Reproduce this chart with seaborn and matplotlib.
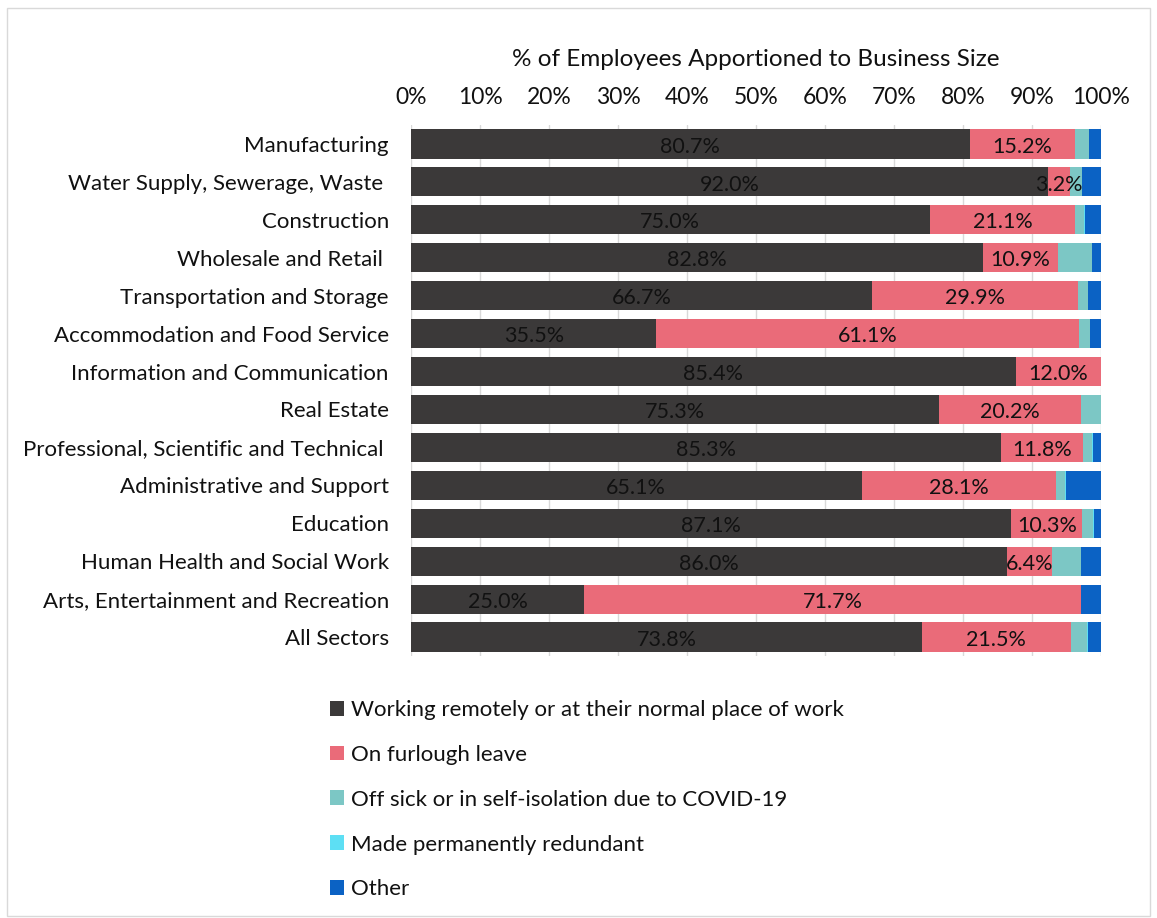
import matplotlib
matplotlib.use("Agg")
import matplotlib.pyplot as plt
import numpy as np
import pandas as pd
import seaborn as sns
from matplotlib.patches import Patch, Rectangle

# Sector categories (top to bottom)
sectors = [
    "Manufacturing",
    "Water Supply, Sewerage, Waste ",
    "Construction",
    "Wholesale and Retail ",
    "Transportation and Storage",
    "Accommodation and Food Service",
    "Information and Communication",
    "Real Estate",
    "Professional, Scientific and Technical ",
    "Administrative and Support",
    "Education",
    "Human Health and Social Work",
    "Arts, Entertainment and Recreation",
    "All Sectors",
]

# Workforce status, % of employees
working = [80.7, 92.0, 75.0, 82.8, 66.7, 35.5, 85.4, 75.3, 85.3, 65.1, 87.1, 86.0, 25.0, 73.8]
furlough = [15.2, 3.2, 21.1, 10.9, 29.9, 61.1, 12.0, 20.2, 11.8, 28.1, 10.3, 6.4, 71.7, 21.5]
sick = [2.0, 1.7, 1.2, 4.9, 1.4, 1.6, 0.0, 2.9, 1.3, 1.3, 1.6, 4.2, 0.0, 2.4]
redundant = [0.1, 0.0, 0.2, 0.0, 0.0, 0.0, 0.0, 0.0, 0.1, 0.2, 0.1, 0.0, 0.0, 0.1]
other = [1.7, 2.8, 2.3, 1.3, 1.9, 1.6, 0.0, 0.0, 1.2, 5.0, 1.0, 2.9, 2.9, 1.9]

series_names = [
    "Working remotely or at their normal place of work",
    "On furlough leave",
    "Off sick or in self-isolation due to COVID-19",
    "Made permanently redundant",
    "Other",
]
series_colors = ["#3b3939", "#ea6b79", "#7cc7c5", "#5ddff4", "#0b62c4"]
tick_values = [0, 10, 20, 30, 40, 50, 60, 70, 80, 90, 100]
tick_labels = ["0%", "10%", "20%", "30%", "40%", "50%", "60%", "70%", "80%", "90%", "100%"]
axis_title = "% of Employees Apportioned to Business Size"

sns.set_theme(style="white")
plt.rcParams["font.family"] = ["Lato", "DejaVu Sans"]

df = pd.DataFrame(
    dict(zip(series_names, [working, furlough, sick, redundant, other])),
    index=sectors,
)
# 100% stacked: each row scaled to its own total
share = df.div(df.sum(axis=1), axis=0) * 100
cum = share.cumsum(axis=1)

fig = plt.figure(figsize=(11.57, 9.18), dpi=100)
ax = fig.add_axes([411 / 1157, 1 - 656 / 918, 690 / 1157, 531 / 918])

# Draw stacked layers from the outermost cumulative total inwards
for name, col in reversed(list(zip(series_names, series_colors))):
    sns.barplot(
        x=cum[name].values, y=sectors, orient="h", color=col,
        saturation=1, width=0.77, linewidth=0, ax=ax, zorder=2,
    )

ax.set_xlim(0, 100)
ax.set_xticks(tick_values)
ax.set_xticklabels(tick_labels)
ax.xaxis.tick_top()
ax.xaxis.set_label_position("top")
ax.set_xlabel(axis_title, fontsize=17.5, labelpad=15, color="#111111")
ax.set_ylabel("")
ax.tick_params(axis="x", length=0, pad=12, labelsize=16.5, labelcolor="#111111")
ax.tick_params(axis="y", length=0, pad=16, labelsize=16, labelcolor="#111111")
ax.xaxis.grid(True, color="#d9d9d9", linewidth=1)
ax.yaxis.grid(False)
ax.set_axisbelow(True)
for sp in ax.spines.values():
    sp.set_visible(False)

# Value labels on the first two segments
w_share = share[series_names[0]].values
f_share = share[series_names[1]].values
for i in range(len(sectors)):
    ax.text(w_share[i] / 2, i + 0.07, f"{working[i]:.1f}%", ha="center", va="center",
            fontsize=15.5, color="#111111", zorder=3)
    ax.text(w_share[i] + f_share[i] / 2, i + 0.07, f"{furlough[i]:.1f}%", ha="center",
            va="center", fontsize=15.5, color="#111111", zorder=3)

handles = [Patch(facecolor=c, edgecolor="none") for c in series_colors]
fig.legend(
    handles, series_names, loc="upper left",
    bbox_to_anchor=(321 / 1157, 1 - 691 / 918), frameon=False,
    fontsize=16, handlelength=0.65, handleheight=0.65, handletextpad=0.3,
    labelspacing=1.12, borderaxespad=0, labelcolor="#111111",
)

fig.patches.append(Rectangle((7 / 1157, 2 / 918), 1143 / 1157, 908 / 918,
                             transform=fig.transFigure, fill=False,
                             edgecolor="#d9d9d9", linewidth=1))

fig.savefig("out.png", dpi=100, facecolor="white")
